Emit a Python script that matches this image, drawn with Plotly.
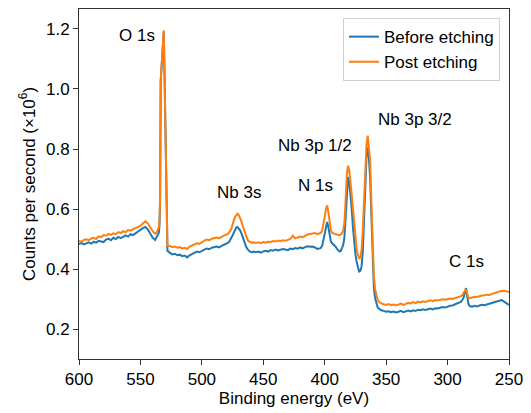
import plotly.graph_objects as go

# Binding energy grid (eV), finer sampling across the core-level peaks
energy = [
    600, 598, 596, 594, 592, 590, 588, 586, 584, 582, 580, 578, 576, 574, 572, 570,
    568, 566, 564, 562, 560, 558, 556, 554, 552, 550, 548, 546, 544, 542, 540, 538,
    537, 536, 535, 534.5, 534, 533.5, 533, 532.5, 532, 531.5, 531, 530.5, 530, 529.5,
    529, 528.5, 528,
    526, 524, 522, 520, 518, 516, 514, 512, 510, 508, 506, 504, 502, 500, 498, 496,
    494, 492, 490, 488, 486, 484, 482, 480, 478, 476,
    475, 474, 473, 472, 471, 470, 469, 468, 467, 466, 465, 464, 463, 462, 461, 460,
    459, 458,
    456, 454, 452, 450, 448, 446, 444, 442, 440, 438, 436, 434, 432, 430, 428, 426,
    424, 422, 420, 418, 416, 414, 412, 410, 408, 406, 404,
    403, 402, 401, 400, 399, 398, 397, 396, 395, 394, 393, 392, 391, 390, 389, 388,
    387, 386, 385, 384, 383, 382, 381, 380, 379, 378, 377, 376, 375, 374, 373, 372,
    371, 370, 369, 368, 367, 366, 365, 364, 363, 362, 361, 360, 359, 358, 357, 356,
    355,
    354, 352, 350, 348, 346, 344, 342, 340, 338, 336, 334, 332, 330, 328, 326, 324,
    322, 320, 318, 316, 314, 312, 310, 308, 306, 304, 302, 300, 298, 296, 294, 292,
    290,
    289, 288, 287, 286, 285, 284, 283, 282, 281,
    280, 278, 276, 274, 272, 270, 268, 266, 264, 262, 260, 258, 256, 254, 252, 250,
]

# Counts per second (x10^6) before etching
before = [
    .484, .488, .483, .487, .490, .486, .492, .489, .495, .493, .491, .499, .502, .497, .505, .501,
    .508, .504, .510, .513, .509, .517, .514, .520, .526, .530, .537, .541, .533, .519, .505, .498,
    .505, .512, .522, .545, .625, 1.025, 1.065, 1.095, 1.125, 1.155, 1.19, 1.075, .935, .765,
    .585, .480, .462,
    .455, .450, .452, .447, .449, .444, .446, .440, .447, .451, .455, .459, .457, .463, .466, .469,
    .467, .472, .474, .476, .473, .479, .482, .486, .490, .505,
    .515, .523, .532, .539, .541, .537, .531, .522, .509, .496, .485, .476, .468, .463, .460, .458,
    .457, .459,
    .457, .459, .456, .460, .462, .459, .464, .462, .466, .463, .465, .468, .466, .464, .469, .467,
    .471, .469, .473, .470, .474, .477, .475, .476, .473, .468, .470,
    .472, .480, .500, .525, .548, .558, .540, .510, .493, .487, .484, .480, .475, .468, .462, .460,
    .461, .468, .480, .505, .580, .670, .707, .690, .650, .600, .540, .490, .450, .425, .405, .393,
    .395, .410, .460, .560, .680, .775, .806, .770, .700, .560, .420, .340, .305, .285, .275, .270,
    .266,
    .264, .262, .259, .261, .258, .260, .257, .259, .262, .258, .261, .263, .260, .264, .262, .266,
    .264, .267, .265, .268, .270, .267, .271, .270, .273, .275, .273, .277, .279, .280, .284, .287,
    .290,
    .293, .298, .306, .322, .338, .310, .285, .278, .277,
    .276, .279, .277, .280, .282, .281, .284, .286, .289, .291, .293, .296, .298, .293, .287, .282,
]

# Counts per second (x10^6) after etching
post = [
    .495, .492, .498, .500, .497, .503, .505, .501, .510, .507, .514, .512, .518, .515, .520, .517,
    .524, .521, .527, .524, .531, .529, .534, .538, .541, .545, .553, .560, .553, .540, .527, .519,
    .522, .530, .540, .562, .640, 1.03, 1.07, 1.10, 1.13, 1.16, 1.195, 1.08, .940, .770,
    .600, .500, .478,
    .478, .474, .476, .472, .474, .470, .472, .468, .476, .480, .484, .487, .485, .492, .496, .499,
    .497, .502, .503, .506, .504, .509, .512, .516, .521, .535,
    .552, .563, .574, .582, .585, .581, .573, .562, .548, .534, .521, .510, .501, .494, .491, .489,
    .488, .490,
    .488, .490, .487, .491, .489, .492, .491, .494, .493, .496, .494, .497, .495, .498, .501, .512,
    .503, .506, .509, .507, .512, .516, .518, .519, .521, .517, .519,
    .522, .530, .548, .575, .600, .613, .590, .550, .530, .522, .519, .518, .517, .516, .515, .514,
    .516, .520, .528, .555, .630, .715, .745, .728, .690, .640, .590, .540, .500, .468, .448, .437,
    .440, .465, .530, .620, .740, .815, .845, .810, .760, .620, .480, .380, .335, .310, .300, .292,
    .289,
    .287, .284, .282, .285, .281, .283, .280, .283, .286, .282, .285, .289, .287, .291, .288, .293,
    .290, .294, .292, .295, .297, .294, .298, .297, .299, .301, .299, .302, .303, .302, .305, .307,
    .309,
    .311, .315, .320, .328, .334, .318, .306, .304, .305,
    .306, .309, .308, .311, .313, .314, .316, .315, .319, .321, .323, .327, .328, .329, .327, .325,
]

# Peak labels: text, binding energy, counts
peak_labels = ["O 1s", "Nb 3s", "N 1s", "Nb 3p 1/2", "Nb 3p 3/2", "C 1s"]
label_x = [553.1, 469.5, 407.6, 408.3, 326.8, 284.3]
label_y = [1.178, 0.656, 0.679, 0.812, 0.900, 0.425]

x_ticks = [600, 550, 500, 450, 400, 350, 300, 250]
y_ticks = [0.2, 0.4, 0.6, 0.8, 1.0, 1.2]

FONT = "Liberation Sans, Arial, sans-serif"
FS = 17
AX = "#333333"

fig = go.Figure()
fig.add_trace(go.Scatter(x=energy, y=before, mode="lines", name="Before etching",
                         line=dict(color="#1f77b4", width=2)))
fig.add_trace(go.Scatter(x=energy, y=post, mode="lines", name="Post etching",
                         line=dict(color="#ff7f0e", width=2)))

for t, xv, yv in zip(peak_labels, label_x, label_y):
    fig.add_annotation(x=xv, y=yv, text=t, showarrow=False,
                       font=dict(size=FS, color="black", family=FONT))

fig.update_xaxes(range=[600, 250], tickvals=x_ticks, ticktext=[str(v) for v in x_ticks],
                 ticks="outside", ticklen=5, tickwidth=1, tickcolor=AX,
                 showline=True, linecolor=AX, linewidth=1, mirror=True,
                 showgrid=False, zeroline=False,
                 tickfont=dict(size=FS, color="black", family=FONT),
                 title=dict(text="Binding energy (eV)", standoff=2,
                            font=dict(size=FS, color="black", family=FONT)))
fig.update_yaxes(range=[0.102, 1.266], tickvals=y_ticks, ticktext=[f"{v:.1f}" for v in y_ticks],
                 ticks="outside", ticklen=5, tickwidth=1, tickcolor=AX,
                 showline=True, linecolor=AX, linewidth=1, mirror=True,
                 showgrid=False, zeroline=False,
                 tickfont=dict(size=FS, color="black", family=FONT),
                 title=dict(text="Counts per second (×10<sup>6</sup>)", standoff=6,
                            font=dict(size=FS, color="black", family=FONT)))

fig.update_layout(
    width=531, height=413,
    margin=dict(l=79, r=19, t=8, b=54),
    paper_bgcolor="white", plot_bgcolor="white",
    font=dict(family=FONT, size=FS, color="black"),
    legend=dict(x=0.979, y=0.974, xanchor="right", yanchor="top",
                bgcolor="white", bordercolor="#d0d0d0", borderwidth=1,
                font=dict(size=FS, color="black", family=FONT)),
)

fig.write_html("out.html")
